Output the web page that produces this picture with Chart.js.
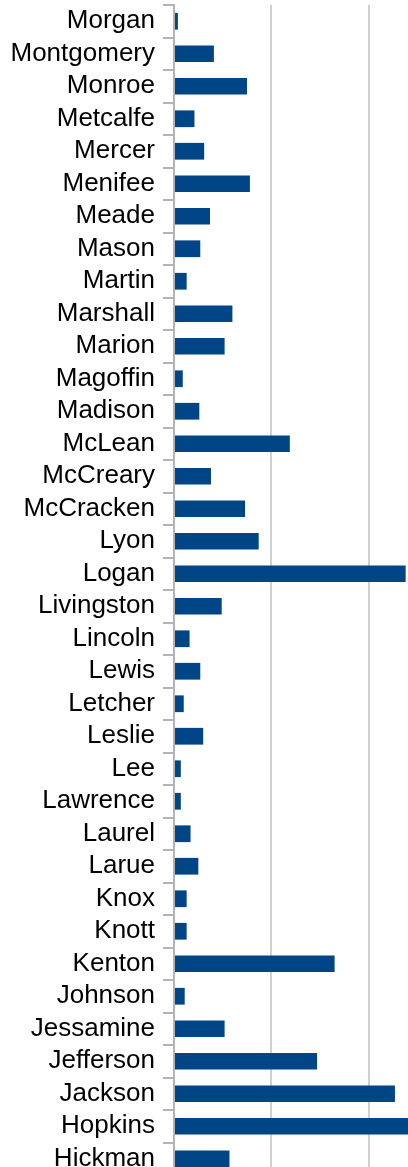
<!DOCTYPE html>
<html lang="en"><head>
<title>County Chart</title>
<meta name="viewport" content="width=device-width, initial-scale=1.0">
<meta charset="utf-8">
<style type="text/css">
html,body { margin:0; padding:0; overflow:hidden; background-color:#ffffff; }
#display  { position:absolute; left:0; top:0; }
</style>
<script src="https://cdn.jsdelivr.net/npm/chart.js"></script>
<script>

counties=["Morgan","Montgomery","Monroe","Metcalfe","Mercer","Menifee","Meade","Mason","Martin",
  "Marshall","Marion","Magoffin","Madison","McLean","McCreary","McCracken","Lyon","Logan",
  "Livingston","Lincoln","Lewis","Letcher","Leslie","Lee","Lawrence","Laurel","Larue","Knox",
  "Knott","Kenton","Johnson","Jessamine","Jefferson","Jackson","Hopkins","Hickman"];
values=[0.4,4.1,7.5,2.1,3.1,7.8,3.7,2.7,1.3,
  6.0,5.2,0.9,2.6,11.9,3.8,7.3,8.7,23.8,
  4.9,1.6,2.7,1.0,3.0,0.7,0.7,1.7,2.5,1.3,
  1.3,16.5,1.1,5.2,14.7,22.7,25.0,5.7];
xTicks=[0,10,20,30];

function initChart() {
  data={labels:counties,datasets:[{
    data:values,backgroundColor:'#004586',borderWidth:0,
    barPercentage:0.515,categoryPercentage:1}]};

  config={type:'bar',data,options:{
    indexAxis:'y',responsive:false,animation:false,
    layout:{padding:{top:5,left:0,right:0,bottom:0}},
    plugins:{legend:{display:false},tooltip:{enabled:false}},
    scales:{
      x:{min:xTicks[0],max:xTicks[xTicks.length-1],
        afterBuildTicks:function(s){s.ticks=xTicks.map(function(v){return {value:v};});},
        ticks:{display:false},
        grid:{color:'#d0d0d0',lineWidth:2,drawTicks:false},
        border:{display:false},
        afterFit:function(s){s.height=0; s.paddingLeft=0; s.paddingRight=0;}},
      y:{ticks:{color:'#000000',padding:8,autoSkip:false,
          font:{family:'"Liberation Sans",Arial,sans-serif',size:26}},
        grid:{drawOnChartArea:false,color:'#b3b3b3',tickLength:11,lineWidth:2},
        border:{color:'#b3b3b3',width:2},
        afterFit:function(s){s.width=174; s.paddingTop=0; s.paddingBottom=0;}}}}};

  countyChart=new Chart(document.getElementById('countyChart'),config); }

</script></head>
<body onload="initChart();">
<div id="display">
  <canvas id="countyChart" width="466" height="1175" style="width:466px;height:1175px;"></canvas>
</div>
</body></html>
